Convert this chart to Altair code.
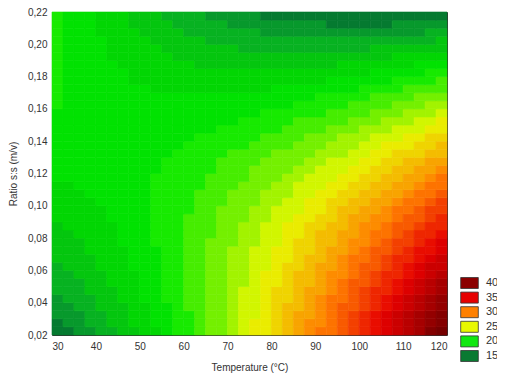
import altair as alt
import pandas as pd

# Grid cell centres (temperature, °C) and (ratio s:s, m/v)
temperature = [31.25, 33.75, 36.25, 38.75, 41.25, 43.75, 46.25, 48.75, 51.25, 53.75,
               56.25, 58.75, 61.25, 63.75, 66.25, 68.75, 71.25, 73.75, 76.25, 78.75,
               81.25, 83.75, 86.25, 88.75, 91.25, 93.75, 96.25, 98.75, 101.25, 103.75,
               106.25, 108.75, 111.25, 113.75, 116.25, 118.75]
ratio = [0.0225, 0.0275, 0.0325, 0.0375, 0.0425, 0.0475, 0.0525, 0.0575, 0.0625, 0.0675,
         0.0725, 0.0775, 0.0825, 0.0875, 0.0925, 0.0975, 0.1025, 0.1075, 0.1125, 0.1175,
         0.1225, 0.1275, 0.1325, 0.1375, 0.1425, 0.1475, 0.1525, 0.1575, 0.1625, 0.1675,
         0.1725, 0.1775, 0.1825, 0.1875, 0.1925, 0.1975, 0.2025, 0.2075, 0.2125, 0.2175]

# Contour band (lower level) read for each cell; rows from ratio 0.0225 (bottom) upward
levels = [
    [14,14,15,15,16,16,17,17,18,18,19,20,20,21,22,22,23,24,25,25,26,27,28,29,30,30,31,32,33,34,35,36,37,38,40,41],
    [14,15,15,16,16,17,17,18,18,19,19,20,20,21,22,22,23,24,25,25,26,27,28,29,29,30,31,32,33,34,35,36,37,38,39,40],
    [15,15,15,16,16,17,17,18,18,19,19,20,20,21,22,22,23,24,24,25,26,27,28,28,29,30,31,32,33,34,35,36,37,38,39,40],
    [15,15,16,16,17,17,17,18,18,19,19,20,21,21,22,22,23,24,24,25,26,27,27,28,29,30,31,31,32,33,34,35,36,37,38,39],
    [15,16,16,16,17,17,18,18,19,19,20,20,21,21,22,22,23,24,24,25,26,26,27,28,29,30,30,31,32,33,34,35,36,37,38,39],
    [16,16,16,17,17,17,18,18,19,19,20,20,21,21,22,22,23,24,24,25,26,26,27,28,28,29,30,31,32,33,33,34,35,36,37,38],
    [16,16,16,17,17,18,18,18,19,19,20,20,21,21,22,22,23,23,24,25,25,26,27,27,28,29,30,31,31,32,33,34,35,36,37,38],
    [16,16,17,17,17,18,18,18,19,19,20,20,21,21,22,22,23,23,24,25,25,26,27,27,28,29,29,30,31,32,33,33,34,35,36,37],
    [16,17,17,17,18,18,18,19,19,19,20,20,21,21,22,22,23,23,24,24,25,26,26,27,28,28,29,30,31,31,32,33,34,35,36,36],
    [17,17,17,17,18,18,18,19,19,19,20,20,21,21,22,22,23,23,24,24,25,25,26,27,27,28,29,30,30,31,32,33,33,34,35,36],
    [17,17,17,18,18,18,18,19,19,19,20,20,21,21,22,22,23,23,24,24,25,25,26,26,27,28,28,29,30,31,31,32,33,34,34,35],
    [17,17,17,18,18,18,19,19,19,20,20,20,21,21,22,22,22,23,23,24,24,25,26,26,27,27,28,29,29,30,31,32,32,33,34,35],
    [17,17,18,18,18,18,19,19,19,20,20,20,21,21,21,22,22,23,23,24,24,25,25,26,27,27,28,28,29,30,30,31,32,33,33,34],
    [17,18,18,18,18,18,19,19,19,20,20,20,21,21,21,22,22,23,23,24,24,25,25,26,26,27,27,28,29,29,30,31,31,32,33,33],
    [18,18,18,18,18,19,19,19,19,20,20,20,21,21,21,22,22,22,23,23,24,24,25,25,26,26,27,28,28,29,29,30,31,31,32,33],
    [18,18,18,18,18,19,19,19,19,20,20,20,20,21,21,22,22,22,23,23,24,24,24,25,25,26,27,27,28,28,29,30,30,31,32,32],
    [18,18,18,18,19,19,19,19,19,20,20,20,20,21,21,21,22,22,22,23,23,24,24,25,25,26,26,27,27,28,28,29,30,30,31,32],
    [18,18,18,19,19,19,19,19,19,20,20,20,20,21,21,21,22,22,22,23,23,23,24,24,25,25,26,26,27,27,28,28,29,30,30,31],
    [18,18,19,19,19,19,19,19,19,20,20,20,20,20,21,21,21,22,22,22,23,23,24,24,24,25,25,26,26,27,27,28,28,29,30,30],
    [19,19,19,19,19,19,19,19,19,20,20,20,20,20,21,21,21,21,22,22,22,23,23,24,24,24,25,25,26,26,27,27,28,28,29,30],
    [19,19,19,19,19,19,19,19,19,19,20,20,20,20,20,21,21,21,22,22,22,22,23,23,24,24,24,25,25,26,26,27,27,28,28,29],
    [19,19,19,19,19,19,19,19,19,19,20,20,20,20,20,21,21,21,21,22,22,22,22,23,23,24,24,24,25,25,26,26,27,27,28,28],
    [19,19,19,19,19,19,19,19,19,19,19,20,20,20,20,20,21,21,21,21,22,22,22,22,23,23,23,24,24,25,25,26,26,26,27,27],
    [19,19,19,19,19,19,19,19,19,19,19,19,20,20,20,20,20,20,21,21,21,21,22,22,22,23,23,23,24,24,25,25,25,26,26,27],
    [19,19,19,19,19,19,19,19,19,19,19,19,19,20,20,20,20,20,20,21,21,21,21,22,22,22,23,23,23,24,24,24,25,25,26,26],
    [19,19,19,19,19,19,19,19,19,19,19,19,19,19,19,20,20,20,20,20,20,21,21,21,21,22,22,22,23,23,23,24,24,24,25,25],
    [19,19,19,19,19,19,19,19,19,19,19,19,19,19,19,19,19,20,20,20,20,20,21,21,21,21,21,22,22,22,23,23,23,24,24,25],
    [19,19,19,19,19,19,19,19,19,19,19,19,19,19,19,19,19,19,19,20,20,20,20,20,20,21,21,21,21,22,22,22,23,23,23,24],
    [20,19,19,19,19,19,19,19,19,19,19,19,19,19,19,19,19,19,19,19,19,19,20,20,20,20,20,21,21,21,21,22,22,22,23,23],
    [20,19,19,19,19,19,19,19,19,19,19,19,19,19,19,19,19,19,19,19,19,19,19,19,20,20,20,20,20,21,21,21,21,22,22,22],
    [20,19,19,19,19,19,19,19,19,18,18,18,18,18,18,18,18,18,18,18,19,19,19,19,19,19,19,19,20,20,20,20,21,21,21,21],
    [20,19,19,19,19,19,19,18,18,18,18,18,18,18,18,18,18,18,18,18,18,18,18,18,18,19,19,19,19,19,19,20,20,20,20,21],
    [20,19,19,19,19,19,19,18,18,18,18,18,18,18,18,18,18,18,18,18,18,18,18,18,18,18,18,18,18,19,19,19,19,19,20,20],
    [20,19,19,19,19,19,18,18,18,18,18,18,18,17,17,17,17,17,17,17,17,17,17,17,17,17,18,18,18,18,18,18,18,19,19,19],
    [20,19,19,19,19,18,18,18,18,18,18,17,17,17,17,17,17,17,17,17,17,17,17,17,17,17,17,17,17,17,17,18,18,18,18,18],
    [20,19,19,19,19,18,18,18,18,18,17,17,17,17,17,17,17,16,16,16,16,16,16,16,16,16,16,16,16,17,17,17,17,17,17,17],
    [20,19,19,19,19,18,18,18,18,17,17,17,17,17,16,16,16,16,16,16,16,16,16,16,16,16,16,16,16,16,16,16,16,16,16,17],
    [20,19,19,19,18,18,18,18,17,17,17,17,16,16,16,16,16,16,16,15,15,15,15,15,15,15,15,15,15,15,15,15,15,15,16,16],
    [20,19,19,19,18,18,18,17,17,17,17,16,16,16,16,16,15,15,15,15,15,15,15,15,15,14,14,14,14,14,14,15,15,15,15,15],
    [20,19,19,19,18,18,18,17,17,17,16,16,16,16,15,15,15,15,15,14,14,14,14,14,14,14,14,14,14,14,14,14,14,14,14,14],
]

x_ticks = [30, 40, 50, 60, 70, 80, 90, 100, 110, 120]
y_ticks = [0.02, 0.04, 0.06, 0.08, 0.10, 0.12, 0.14, 0.16, 0.18, 0.20, 0.22]

legend_labels = ["40", "35", "30", "25", "20", "15"]
legend_colors = ["#8b0000", "#e60000", "#ff8000", "#e8f800", "#10e810", "#0a7a32"]

ramp_domain = [12, 14, 16, 18, 20, 25, 30, 35, 40, 43]
ramp_range = ["#00502a", "#046a32", "#08a82a", "#02d004", "#00e800", "#e8f800",
              "#ff8000", "#e60000", "#8b0000", "#600000"]

records = []
for i, rv in enumerate(ratio):
    for j, tv in enumerate(temperature):
        records.append({"temp": tv, "ratio": rv, "level": levels[i][j]})
df = pd.DataFrame(records)

FONT = "Liberation Sans"

color_scale = alt.Scale(domain=ramp_domain, range=ramp_range, interpolate="rgb")

heat = alt.Chart(df).transform_calculate(
    t0="datum.temp - 1.25",
    t1="datum.temp + 1.25",
    r0="datum.ratio - 0.0025",
    r1="datum.ratio + 0.0025",
    mid="datum.level + 0.5",
).mark_rect(strokeWidth=0.6).encode(
    x=alt.X("t0:Q",
            scale=alt.Scale(domain=[30, 120], nice=False, zero=False),
            axis=alt.Axis(values=x_ticks, title="Temperature (°C)", grid=False,
                          ticks=False, domain=False, labelPadding=6, titlePadding=11,
                          labelFontSize=10, titleFontSize=10, titleFontWeight="normal",
                          labelColor="#333", titleColor="#333",
                          labelFont=FONT, titleFont=FONT)),
    x2="t1:Q",
    y=alt.Y("r0:Q",
            scale=alt.Scale(domain=[0.02, 0.22], nice=False, zero=False),
            axis=alt.Axis(values=y_ticks, title="Ratio s:s (m/v)", grid=False,
                          ticks=False, domain=False, labelPadding=5, titlePadding=9,
                          labelExpr="replace(format(datum.value, '.2f'), '.', ',')",
                          labelFontSize=10, titleFontSize=10, titleFontWeight="normal",
                          labelColor="#333", titleColor="#333",
                          labelFont=FONT, titleFont=FONT)),
    y2="r1:Q",
    color=alt.Color("mid:Q", scale=color_scale, legend=None),
    stroke=alt.Stroke("mid:Q", scale=color_scale, legend=None),
)

leg_df = pd.DataFrame({"label": legend_labels})
legend_layer = alt.Chart(leg_df).mark_point(filled=True, opacity=1).encode(
    x=alt.value(150),
    y=alt.value(150),
    color=alt.Color("label:N",
                    scale=alt.Scale(domain=legend_labels, range=legend_colors),
                    sort=legend_labels,
                    legend=alt.Legend(title=None, orient="none", legendX=411.5, legendY=265,
                                      symbolType="M-1.6,-1L1.6,-1L1.6,1L-1.6,1Z",
                                      symbolSize=121, labelOffset=10.5, rowPadding=-1.4,
                                      labelFontSize=11, labelFont=FONT, labelColor="#333",
                                      padding=0, symbolStrokeColor="#333",
                                      symbolStrokeWidth=0.8)),
)

chart = alt.layer(legend_layer, heat).resolve_scale(color="independent").properties(
    width=395, height=323,
    padding={"left": 44, "top": 4, "right": 50, "bottom": 40},
    autosize=alt.AutoSizeParams(type="none"),
).configure_view(stroke="#333", strokeWidth=1)

chart.save("out.html", embed_options={"renderer": "svg", "actions": False})
